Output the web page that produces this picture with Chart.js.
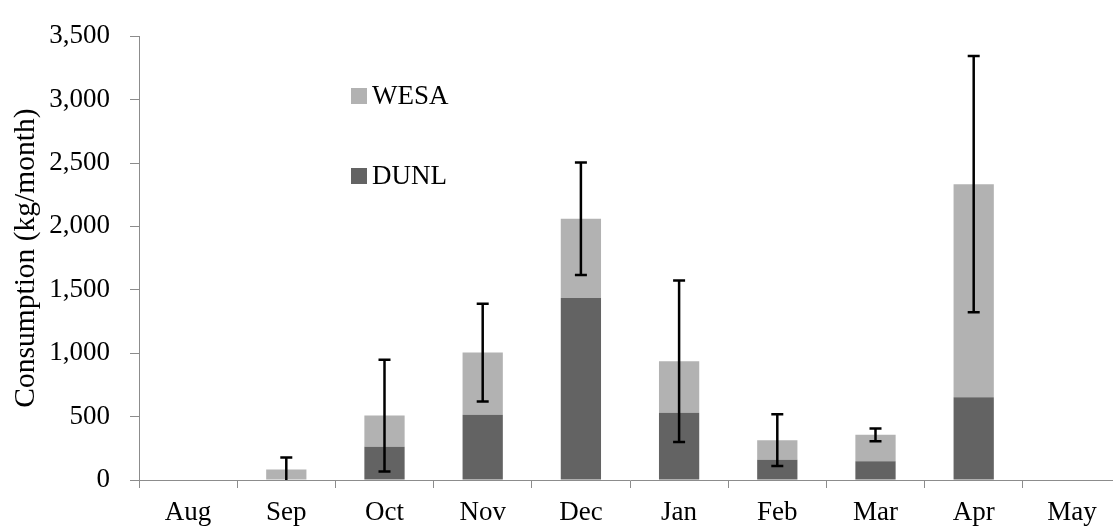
<!DOCTYPE html>
<html>
<head>
<meta charset="utf-8">
<script src="https://cdn.jsdelivr.net/npm/chart.js@4.4.1/dist/chart.umd.min.js"></script>
<style>
    html, body { margin: 0; padding: 0; background: #fff; overflow: hidden; }
    #wrap { width: 1122px; height: 531px; }
</style>
</head>
<body>
<div id="wrap"><canvas id="consumption"></canvas></div>
<script>
var months = ['Aug', 'Sep', 'Oct', 'Nov', 'Dec', 'Jan', 'Feb', 'Mar', 'Apr', 'May'];
var dunl = [null, 0, 263, 515, 1435, 531, 160, 147, 652, null];
var wesa = [null, 83, 245, 490, 625, 406, 154, 209, 1681, null];
var totalErr = [null, 95, 440, 385, 443, 637, 204, 50, 1010, null];
var yTicks = [0, 3500, 500];

var serif = "'Liberation Serif', 'Times New Roman', serif";

// error bars on top of each stacked column
var errorBars = {
    id: 'errorBars',
    afterDatasetsDraw: function (chart) {
        var c = chart.ctx;
        var y = chart.scales.y;
        var meta = chart.getDatasetMeta(1);
        c.save();
        c.strokeStyle = '#000';
        c.lineWidth = 2.5;
        for (var i = 0; i < months.length; i++) {
            if (totalErr[i] == null) continue;
            var total = (dunl[i] || 0) + (wesa[i] || 0);
            var x = meta.data[i].x;
            var hi = total + totalErr[i];
            var lo = total - totalErr[i];
            var yHi = y.getPixelForValue(hi);
            var yLo = y.getPixelForValue(Math.max(lo, 0));
            c.beginPath();
            c.moveTo(x, yHi);
            c.lineTo(x, yLo);
            c.moveTo(x - 6, yHi);
            c.lineTo(x + 6, yHi);
            if (lo > 0) {
                c.moveTo(x - 6, yLo);
                c.lineTo(x + 6, yLo);
            }
            c.stroke();
        }
        c.restore();
    }
};

// legend placed inside the plot, WESA above DUNL
var insideLegend = {
    id: 'insideLegend',
    afterDraw: function (chart) {
        var c = chart.ctx;
        var items = [
            { text: 'WESA', color: '#b2b2b2', y: 96 },
            { text: 'DUNL', color: '#636363', y: 176 }
        ];
        c.save();
        c.font = '27px ' + serif;
        c.textBaseline = 'middle';
        c.fillStyle = '#000';
        items.forEach(function (it) {
            c.fillStyle = it.color;
            c.fillRect(351, it.y - 8, 16, 16);
            c.fillStyle = '#000';
            c.fillText(it.text, 372, it.y + 1);
        });
        c.restore();
    }
};

var ctx = document.getElementById('consumption');
var consumption = new Chart(ctx, {
    type: 'bar',
    data: {
        labels: months,
        datasets: [{
            label: 'DUNL',
            data: dunl,
            backgroundColor: '#636363',
            categoryPercentage: 1,
            barPercentage: 0.41
        }, {
            label: 'WESA',
            data: wesa,
            backgroundColor: '#b2b2b2',
            categoryPercentage: 1,
            barPercentage: 0.41
        }]
    },
    plugins: [errorBars, insideLegend],
    options: {
        responsive: true,
        maintainAspectRatio: false,
        animation: false,
        locale: 'en-US',
        layout: {
            padding: { top: 27, right: 1, left: 0, bottom: 0 }
        },
        plugins: {
            legend: { display: false },
            tooltip: { enabled: false }
        },
        scales: {
            x: {
                stacked: true,
                grid: {
                    offset: true,
                    drawOnChartArea: false,
                    drawTicks: true,
                    tickLength: 8,
                    color: '#8c8c8c'
                },
                border: { color: '#8c8c8c', width: 1 },
                ticks: {
                    color: '#000',
                    padding: 9,
                    font: { family: serif, size: 27 }
                },
                afterFit: function (s) { s.height = 51; }
            },
            y: {
                stacked: true,
                min: yTicks[0],
                max: yTicks[1],
                grid: {
                    drawOnChartArea: false,
                    drawTicks: true,
                    tickLength: 9,
                    color: '#8c8c8c'
                },
                border: { color: '#8c8c8c', width: 1 },
                ticks: {
                    stepSize: yTicks[2],
                    color: '#000',
                    padding: 20,
                    font: { family: serif, size: 27 }
                },
                title: {
                    display: true,
                    text: 'Consumption (kg/month)',
                    color: '#000',
                    padding: { top: 9, bottom: 0 },
                    font: { family: serif, size: 29.5 }
                },
                afterFit: function (s) { s.width = 139; }
            }
        }
    }
});
</script>
</body>
</html>
